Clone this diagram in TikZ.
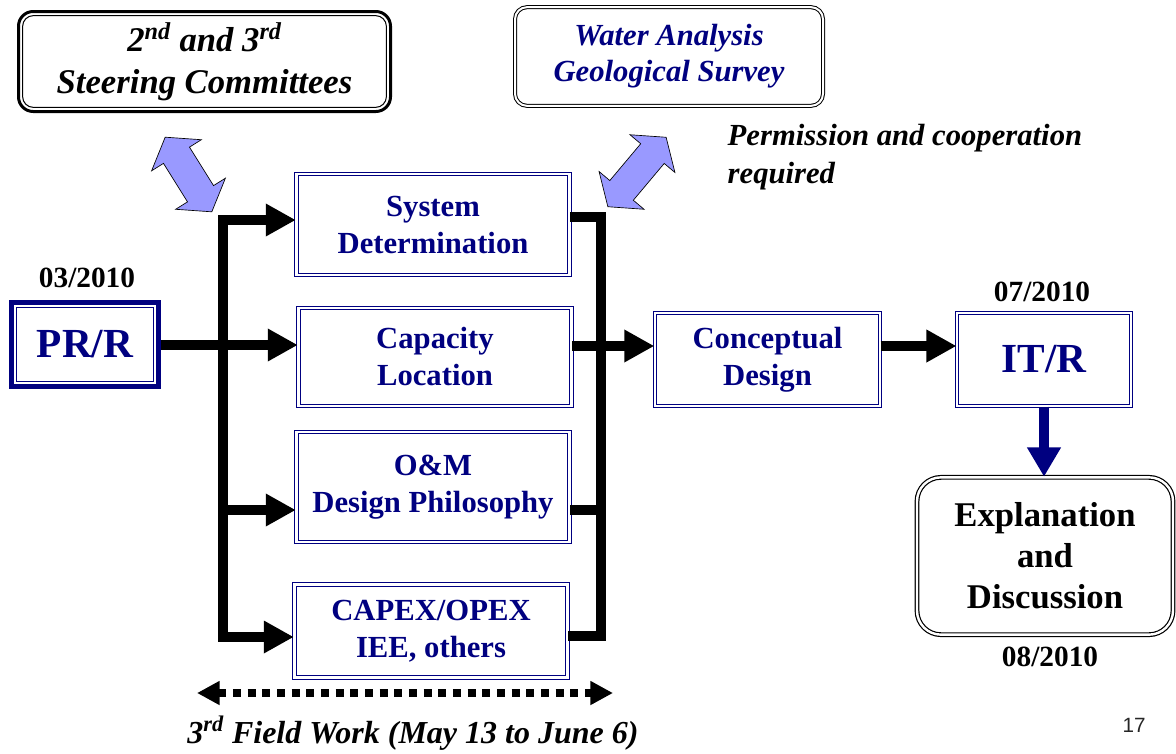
\documentclass[tikz,border=0pt]{standalone}
\usepackage{fontspec}
\setmainfont{Liberation Serif}
\setsansfont{Liberation Sans}
\usetikzlibrary{arrows.meta}
\usetikzlibrary{shapes.arrows}
\definecolor{navy}{HTML}{000080}
\definecolor{lightblue}{HTML}{9999FF}

\begin{document}
\begin{tikzpicture}[x=0.75pt,y=-0.75pt,>={Triangle[length=22.5pt,width=23pt]},
    stagebox/.style={draw=navy,double,line width=0.8pt,double distance=1.8pt,text=navy,align=center,
      font=\bfseries\fontsize{23}{27.75}\selectfont,minimum width=205pt},
    reportbox/.style={draw=navy,line width=3.75pt,text=navy,minimum width=110pt,minimum height=63pt,
      font=\bfseries\fontsize{31}{36}\selectfont,
      path picture={\draw[navy,line width=0.75pt] ([shift={(3.5pt,-3.5pt)}]path picture bounding box.north west) rectangle ([shift={(-3.5pt,3.5pt)}]path picture bounding box.south east);}},
    datelabel/.style={font=\bfseries\fontsize{22}{26}\selectfont},
    bus/.style={line width=7.5pt},
    bluearrow/.style={double arrow,draw,fill=lightblue,line width=0.5pt,minimum width=43.5pt,
      inner xsep=0pt,inner ysep=11.25pt,double arrow head extend=10.5pt,double arrow tip angle=108},
    fieldline/.style={line width=6pt,dash pattern=on 6pt off 5pt,
      {Triangle[length=17pt,width=17pt]}-{Triangle[length=17pt,width=17pt]}}]
  \useasboundingbox (0,0) rectangle (1176,753);

  % top boxes
  \node[draw,rounded corners=11pt,line width=2.25pt,minimum width=279pt,minimum height=75pt,align=center,
    font=\bfseries\itshape\fontsize{26}{31.5}\selectfont,
    path picture={\draw[rounded corners=8pt,line width=0.75pt] ([shift={(3.1pt,-3.1pt)}]path picture bounding box.north west) rectangle ([shift={(-3.1pt,3.1pt)}]path picture bounding box.south east);}]
    (steer) at (204.5,61.5) {2\textsuperscript{nd} and 3\textsuperscript{rd}\\Steering Committees};
  \node[draw,rounded corners=9pt,double,line width=0.75pt,double distance=1.5pt,minimum width=231pt,minimum height=74pt,
    align=center,text=navy,font=\bfseries\itshape\fontsize{23}{27}\selectfont]
    (water) at (669,56.5) {Water Analysis\\Geological Survey};
  \node[anchor=west,align=left,font=\bfseries\itshape\fontsize{23}{28.5}\selectfont]
    (permit) at (723,157) {Permission and cooperation\\required};

  \node[bluearrow,minimum height=66pt,rotate=122] (steerlink) at (188.5,174.5) {};
  \node[bluearrow,minimum height=68pt,rotate=50] (waterlink) at (637,172) {};

  % main flow
  \node[reportbox] (prr) at (85,344.5) {PR/R};
  \node[datelabel] (prrdate) at (87,278) {03/2010};

  \node[stagebox,minimum height=76pt] (sys) at (433,224.5) {System\\Determination};
  \node[stagebox,minimum height=73.5pt] (cap) at (435,357) {Capacity\\Location};
  \node[stagebox,minimum height=82.5pt] (om) at (433,487) {O\&M\\Design Philosophy};
  \node[stagebox,minimum height=70pt] (capex) at (431,631) {CAPEX/OPEX\\IEE, others};

  \node[stagebox,minimum width=169pt,minimum height=70pt] (concept) at (767.5,359.5) {Conceptual\\Design};
  \node[stagebox,minimum width=130.5pt,minimum height=70pt,font=\bfseries\fontsize{31}{36}\selectfont] (itr) at (1044,359.5) {IT/R};
  \node[datelabel] (itrdate) at (1042,292) {07/2010};

  \node[draw,rounded corners=18pt,double,line width=0.9pt,double distance=1.8pt,minimum width=192pt,minimum height=118pt,
    align=center,font=\bfseries\fontsize{26}{30.75}\selectfont]
    (expl) at (1045,556) {Explanation\\and\\Discussion};
  \node[datelabel] (expldate) at (1050,657) {08/2010};

  \coordinate (ltop) at (223,220);
  \coordinate (lmid) at (223,345);
  \coordinate (lom) at (223,510);
  \coordinate (lbot) at (223,637);
  \coordinate (rtop) at (601,217);
  \coordinate (rmid) at (601,346);
  \coordinate (rom) at (601,510);
  \coordinate (rbot) at (601,636);

  \draw[bus,<->] (sys.west |- ltop) -- (ltop) -- (lbot) -- (capex.west |- lbot);
  \draw[bus,->] (lom) -- (om.west |- lom);
  \draw[bus,->] (prr.east |- lmid) -- (cap.west |- lmid);
  \draw[bus] (sys.east |- rtop) -- (rtop) -- (rbot) -- (capex.east |- rbot);
  \draw[bus] (om.east |- rom) -- (rom);
  \draw[bus,->] (cap.east |- rmid) -- (concept.west |- rmid);
  \draw[bus,->] (concept.east |- rmid) -- (itr.west |- rmid);
  \draw[bus,navy,-{Triangle[length=22pt,width=24pt]}] (itr.south) -- (itr.south |- expl.north);

  % field work
  \coordinate (fieldstart) at (197,693);
  \coordinate (fieldend) at (613,693);
  \draw[fieldline] (fieldstart) -- (fieldend);
  \node[font=\bfseries\itshape\fontsize{24}{28}\selectfont] (fieldtext) at (413,733) {3\textsuperscript{rd} Field Work (May 13 to June 6)};

  \node[font=\sffamily\fontsize{15.5}{18}\selectfont,text=black!85] (pagenum) at (1134,725) {17};
\end{tikzpicture}
\end{document}
